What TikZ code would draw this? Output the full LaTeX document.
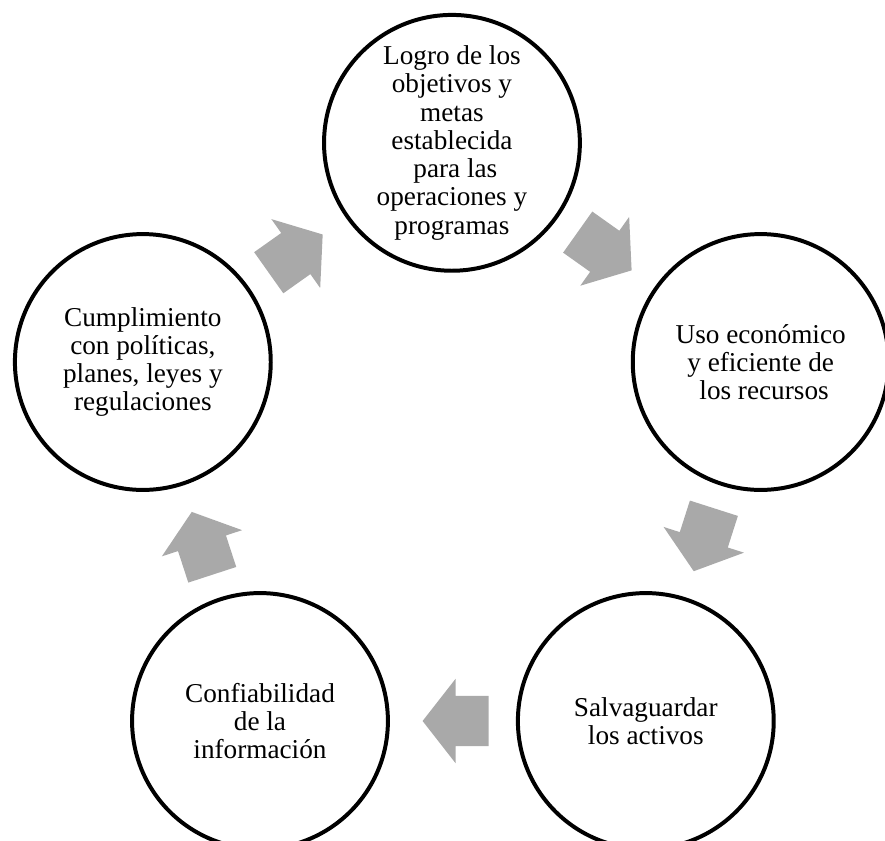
\documentclass[tikz,border=0pt]{standalone}
\usepackage{fontspec}
\setmainfont{Liberation Serif}
\usetikzlibrary{shapes.arrows}
\definecolor{grisflecha}{HTML}{A9A9A9}
\tikzset{
  objetivo/.style={circle, draw, line width=3pt, minimum size=6.77cm, inner sep=0pt,
    align=center, font=\fontsize{20.5}{21.3}\selectfont},
  flecha/.style={single arrow, fill=grisflecha, draw=none, inner sep=0pt,
    text height=0.66cm, text depth=0.66cm,
    minimum height=1.75cm, minimum width=2.22cm, single arrow head extend=0.45cm,
    single arrow tip angle=104, pos=0.4, sloped, allow upside down}
}
\begin{document}
\begin{tikzpicture}[x=1cm,y=1cm]
\useasboundingbox (0,0) rectangle (23.42,22.25);

\node[objetivo] (logro) at (11.96,18.47) {Logro de los\\objetivos y\\metas\\establecida\hspace*{0.25em}\\\hspace*{0.25em}para las\\operaciones y\\programas};
\node[objetivo] (uso) at (20.13,12.67) {Uso económico\\y eficiente de\\\hspace*{0.25em}los recursos};
\node[objetivo] (salva) at (17.09,3.17) {Salvaguardar\\los activos};
\node[objetivo] (confia) at (6.88,3.17) {Confiabilidad\\de la\\información};
\node[objetivo] (cumple) at (3.78,12.67) {Cumplimiento\\con políticas,\\planes, leyes y\\regulaciones};

\path (logro) -- node[flecha] {} (uso);
\path (uso) -- node[flecha] {} (salva);
\path (salva) -- node[flecha] {} (confia);
\path (confia) -- node[flecha] {} (cumple);
\path (cumple) -- node[flecha] {} (logro);
\end{tikzpicture}
\end{document}
